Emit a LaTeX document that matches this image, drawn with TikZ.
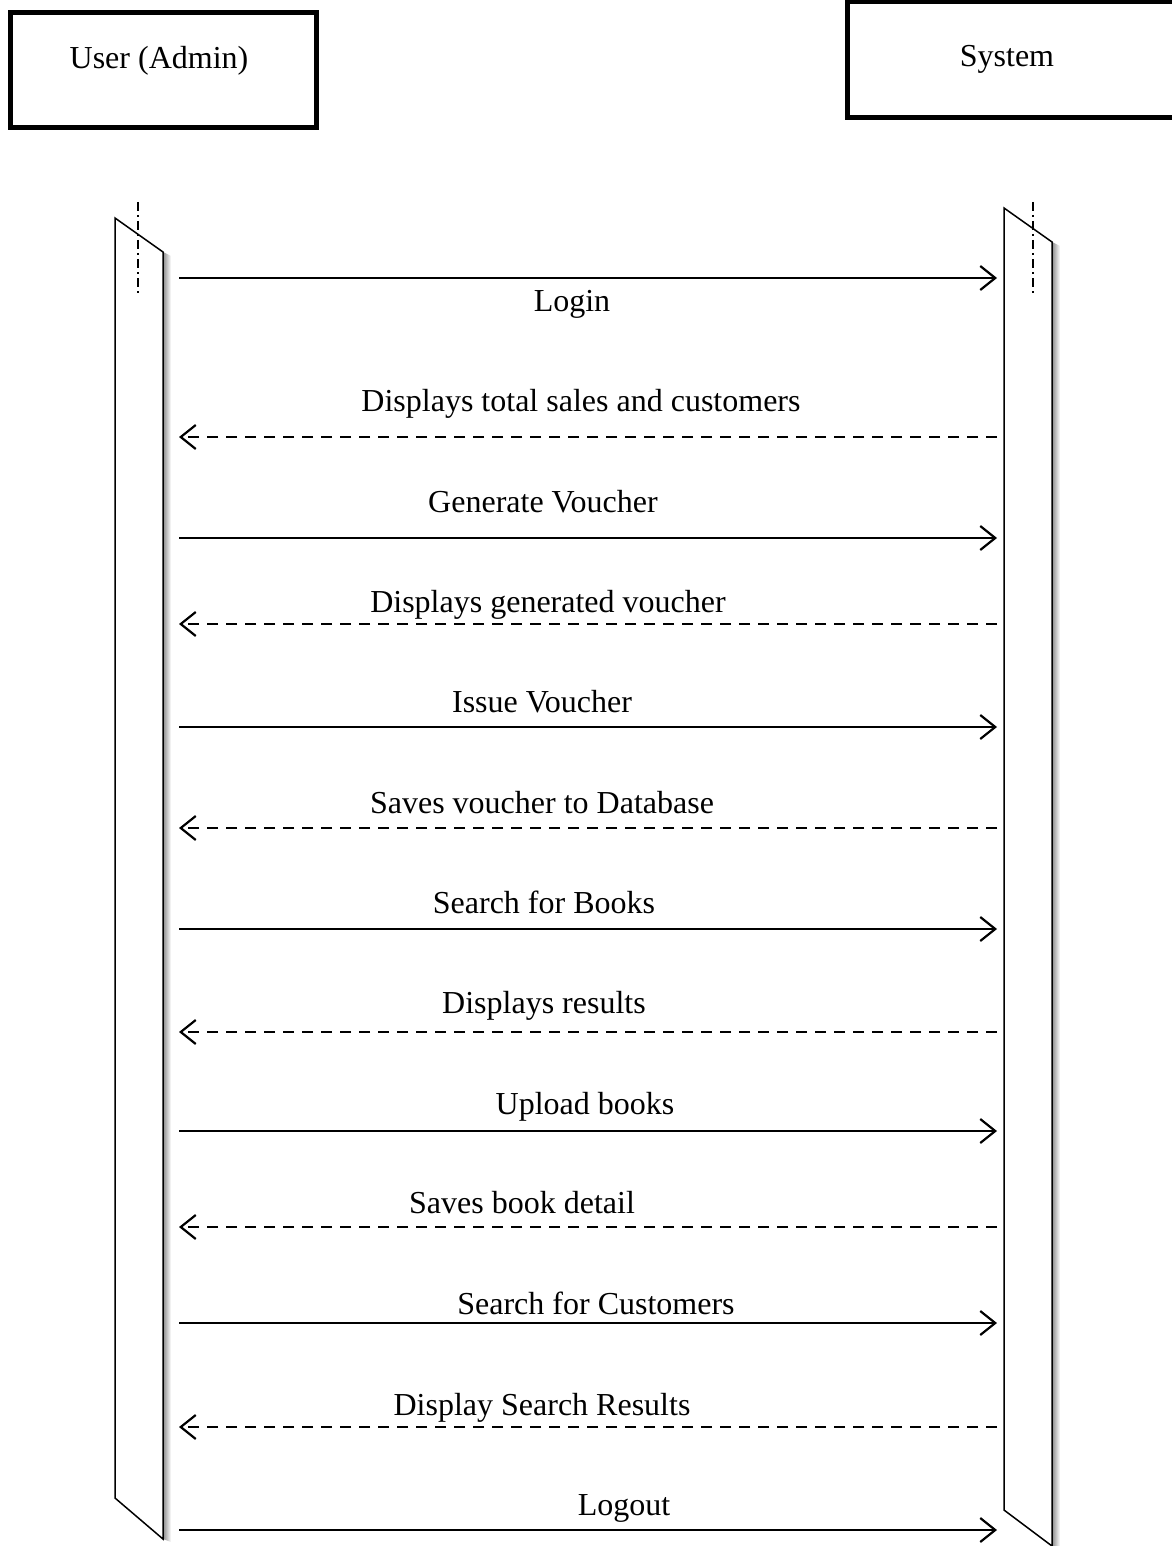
\documentclass[tikz,border=0pt]{standalone}
\usepackage{fontspec}
\setmainfont{Liberation Serif}
\usetikzlibrary{arrows.meta}
\tikzset{
  actorbox/.style={draw, line width=5pt, inner sep=0pt},
  actortext/.style={font=\fontsize{32}{34}\selectfont, inner sep=0pt},
  lifebar/.style={draw, line width=1.5pt, fill=white, line join=miter},
  focusline/.style={line width=1.2pt, dash pattern=on 9pt off 4pt on 2pt off 4pt},
  barshadow/.style={left color=black!45, right color=white, draw=none},
  msg/.style={line width=2.2pt, -{Straight Barb[length=15pt,width=24pt,line width=2.2pt]}},
  reply/.style={msg, dash pattern=on 11pt off 8pt},
  msglabel/.style={font=\fontsize{32}{34}\selectfont, inner sep=0pt, anchor=base}
}
\begin{document}
\begin{tikzpicture}[x=1pt,y=-1pt]
\useasboundingbox (0,0) rectangle (1171,1546);

% participant headers
\node[actorbox, minimum width=306pt, minimum height=115pt] (user) at (163.5,70) {};
\node[actortext] (usertxt) at (159,61) {User (Admin)};
\node[actorbox, minimum width=330pt, minimum height=116pt] (sys) at (1012,60) {};
\node[actortext] (systxt) at (1007,59) {System};

% activation bars with soft shadow on the right
\shade[barshadow] (163,252) -- (171,256) -- (171,1542) -- (163,1539) -- cycle;
\shade[barshadow] (1052,242) -- (1060,246) -- (1060,1546) -- (1052,1546) -- cycle;
\path[lifebar] (115,218) -- (163,252) -- (163,1539) -- (115,1498) -- cycle;
\path[lifebar] (1004,208) -- (1052,242) -- (1052,1546) -- (1004,1510) -- cycle;
\draw[focusline] (138,202) -- (138,295);
\draw[focusline] (1033,202) -- (1033,295);

% messages: index / y / label / label x / label baseline
\foreach \i/\y/\txt/\lx/\ly in {
  1/278/Login/572/311,
  2/437/Displays total sales and customers/581/411,
  3/538/Generate Voucher/543/512,
  4/624/Displays generated voucher/548/612,
  5/727/Issue Voucher/542/712,
  6/828/Saves voucher to Database/542/813,
  7/929/Search for Books/544/913,
  8/1032/Displays results/544/1013,
  9/1131/Upload books/585/1114,
  10/1227/Saves book detail/522/1213,
  11/1323/Search for Customers/596/1314,
  12/1427/Display Search Results/542/1415,
  13/1530/Logout/624/1515}{
  \coordinate (u\i) at (179,\y);
  \coordinate (s\i) at (997,\y);
  \node[msglabel] (l\i) at (\lx,\ly) {\txt};
  \ifodd\i
    \draw[msg] (u\i) -- (s\i);
  \else
    \draw[reply] (s\i) -- (u\i);
  \fi
}
\end{tikzpicture}
\end{document}
